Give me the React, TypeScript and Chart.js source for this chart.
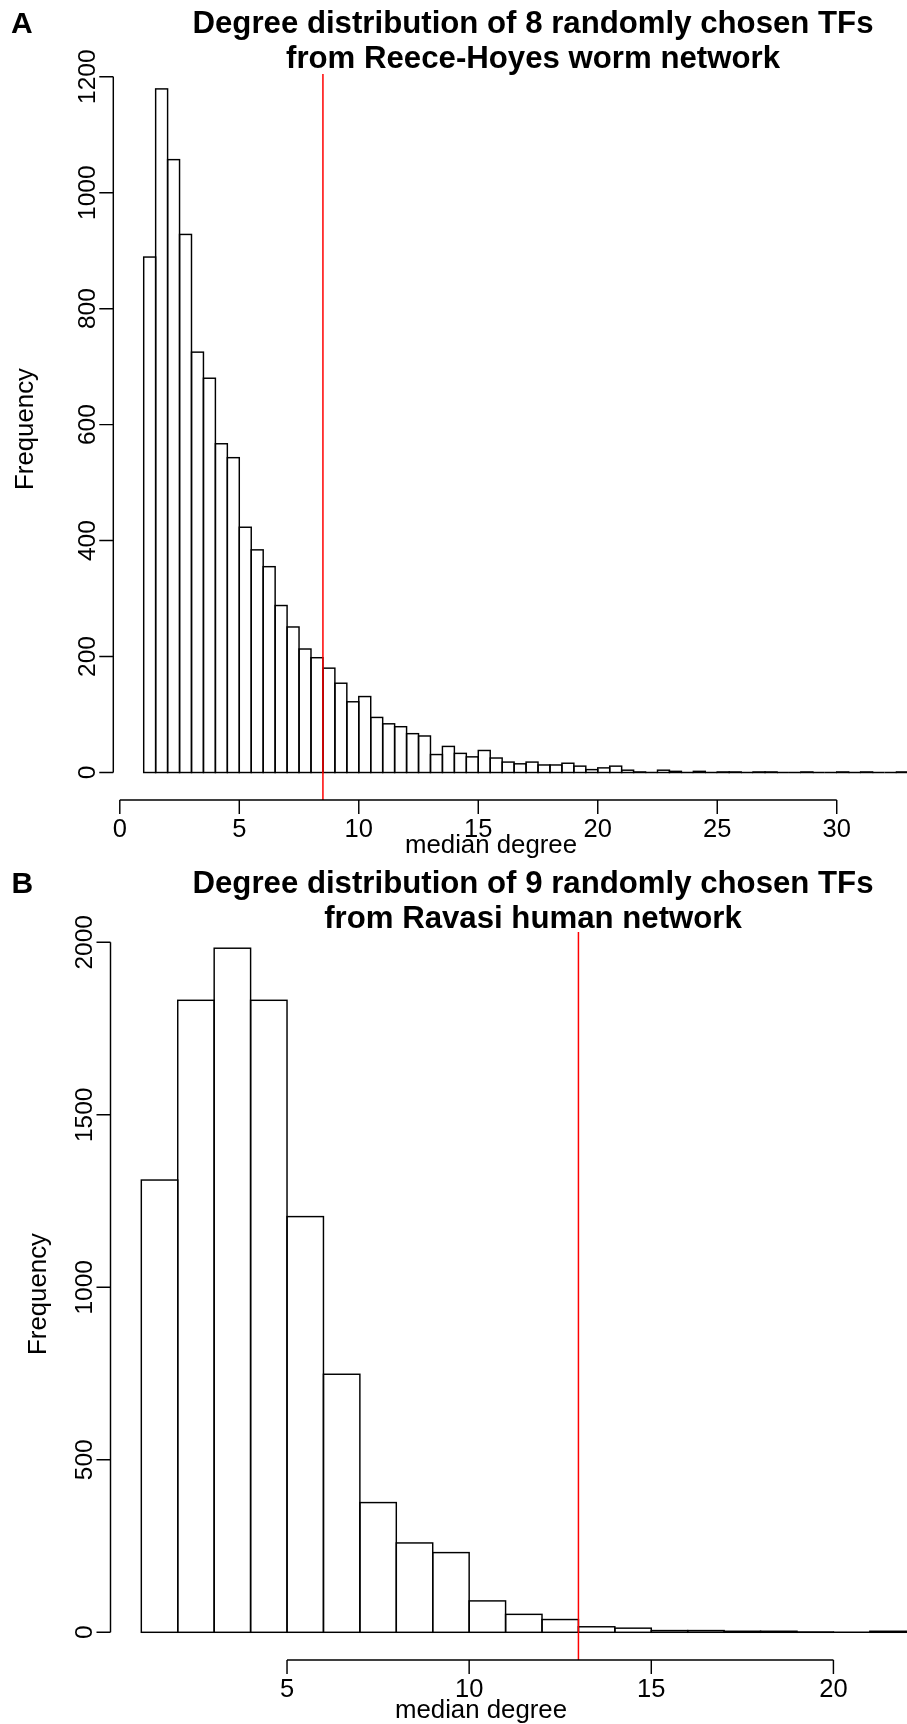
import React, { useEffect, useRef } from "react";
import { Chart, registerables } from "chart.js";

Chart.register(...registerables);

// ---------- Data: panel A (Reece-Hoyes worm network) ----------
const titleA = ["Degree distribution of 8 randomly chosen TFs", "from Reece-Hoyes worm network"];
const binLeftA = [
  1, 1.5, 2, 2.5, 3, 3.5, 4, 4.5, 5, 5.5, 6, 6.5, 7, 7.5, 8, 8.5,
  9, 9.5, 10, 10.5, 11, 11.5, 12, 12.5, 13, 13.5, 14, 14.5, 15, 15.5, 16, 16.5,
  17, 17.5, 18, 18.5, 19, 19.5, 20, 20.5, 21, 21.5, 22, 22.5, 23, 23.5, 24, 24.5,
  25, 25.5, 26, 26.5, 27, 27.5, 28, 28.5, 29, 29.5, 30, 30.5, 31, 31.5, 32, 32.5,
];
const countsA = [
  889, 1179, 1057, 928, 725, 680, 567, 543, 423, 384, 355, 288, 251, 213, 198, 180,
  154, 122, 131, 95, 84, 79, 67, 63, 31, 45, 33, 27, 38, 25, 18, 15,
  18, 13, 13, 16, 11, 5, 8, 11, 4, 1, 0, 4, 2, 0, 2, 0,
  1, 1, 0, 1, 1, 0, 0, 1, 0, 0, 1, 0, 1, 0, 0, 1,
];
const binWidthA = 0.5;
const medianA = 8.5;
const xTicksA = [0, 5, 10, 15, 20, 25, 30];
const yTicksA = [0, 200, 400, 600, 800, 1000, 1200];

// ---------- Data: panel B (Ravasi human network) ----------
const titleB = ["Degree distribution of 9 randomly chosen TFs", "from Ravasi human network"];
const binLeftB = [1, 2, 3, 4, 5, 6, 7, 8, 9, 10, 11, 12, 13, 14, 15, 16, 17, 18, 19, 20, 21];
const countsB = [1311, 1832, 1983, 1832, 1205, 748, 376, 259, 231, 91, 52, 37, 16, 12, 5, 5, 3, 3, 1, 0, 3];
const binWidthB = 1;
const medianB = 13;
const xTicksB = [5, 10, 15, 20];
const yTicksB = [0, 500, 1000, 1500, 2000];

const xLabel = "median degree";
const yLabel = "Frequency";

// ---------- Styling / layout ----------
const FONT = '"Liberation Sans", Arial, Helvetica, sans-serif';
const LINE_W = 1.45;
const TICK_LEN = 14;
const CANVAS_W = 907;
const CANVAS_H = 862;

type PanelSpec = {
  letter: string;
  title: string[];
  binLeft: number[];
  counts: number[];
  binWidth: number;
  median: number;
  xTicks: number[];
  yTicks: number[];
  xMin: number;
  xMax: number;
  yMin: number;
  yMax: number;
  padding: { left: number; right: number; top: number; bottom: number };
  letterX: number;
  titleX: number;
  titleBaselines: number[];
  yLabX: number;
  yLabY: number;
  xLabX: number;
  xLabBaseline: number;
};

const panelA: PanelSpec = {
  letter: "A",
  title: titleA,
  binLeft: binLeftA,
  counts: countsA,
  binWidth: binWidthA,
  median: medianA,
  xTicks: xTicksA,
  yTicks: yTicksA,
  xMin: -0.272,
  xMax: 32.94,
  yMin: -47.4,
  yMax: 1204.7,
  padding: { left: 113.3, right: 0, top: 74, bottom: 62 },
  letterX: 11,
  titleX: 533,
  titleBaselines: [33.3, 68.3],
  yLabX: 33.3,
  yLabY: 429,
  xLabX: 491,
  xLabBaseline: 853,
};

const panelB: PanelSpec = {
  letter: "B",
  title: titleB,
  binLeft: binLeftB,
  counts: countsB,
  binWidth: binWidthB,
  median: medianB,
  xTicks: xTicksB,
  yTicks: yTicksB,
  xMin: 0.154,
  xMax: 22.02,
  yMin: -80.3,
  yMax: 2030,
  padding: { left: 110.5, right: 0, top: 70, bottom: 64 },
  letterX: 11.5,
  titleX: 533,
  titleBaselines: [31.3, 66.3],
  yLabX: 46,
  yLabY: 432,
  xLabX: 481,
  xLabBaseline: 856,
};

function makeDecorPlugin(p: PanelSpec) {
  return {
    id: "rStyleDecor" + p.letter,
    afterDatasetsDraw(chart: any) {
      const ctx = chart.ctx as CanvasRenderingContext2D;
      const xs = chart.scales.x;
      const area = chart.chartArea;

      // histogram outlines (from the bar elements positioned by chart.js)
      ctx.save();
      ctx.strokeStyle = "#000";
      ctx.lineWidth = LINE_W;
      ctx.lineJoin = "miter";
      const meta = chart.getDatasetMeta(0);
      meta.data.forEach((el: any) => {
        const { x, y, base, width } = el.getProps(["x", "y", "base", "width"], true);
        ctx.strokeRect(x - width / 2, y, width, base - y);
      });
      ctx.restore();

      // red median line
      ctx.save();
      ctx.strokeStyle = "#FF0000";
      ctx.lineWidth = 1.5;
      const mx = xs.getPixelForValue(p.median);
      ctx.beginPath();
      ctx.moveTo(mx, area.top);
      ctx.lineTo(mx, area.bottom);
      ctx.stroke();
      ctx.restore();
    },
    afterDraw(chart: any) {
      const ctx = chart.ctx as CanvasRenderingContext2D;
      const xs = chart.scales.x;
      const ys = chart.scales.y;
      const area = chart.chartArea;
      ctx.save();
      ctx.strokeStyle = "#000";
      ctx.fillStyle = "#000";
      ctx.lineWidth = LINE_W;

      // y axis
      const ax = area.left;
      const yTop = ys.getPixelForValue(p.yTicks[p.yTicks.length - 1]);
      const yBot = ys.getPixelForValue(p.yTicks[0]);
      ctx.beginPath();
      ctx.moveTo(ax, yBot);
      ctx.lineTo(ax, yTop);
      p.yTicks.forEach((t) => {
        const py = ys.getPixelForValue(t);
        ctx.moveTo(ax, py);
        ctx.lineTo(ax - TICK_LEN, py);
      });
      ctx.stroke();
      ctx.font = `24.5px ${FONT}`;
      ctx.textAlign = "center";
      ctx.textBaseline = "alphabetic";
      p.yTicks.forEach((t) => {
        const py = ys.getPixelForValue(t);
        ctx.save();
        ctx.translate(ax - 18.3, py);
        ctx.rotate(-Math.PI / 2);
        ctx.fillText(String(t), 0, 0);
        ctx.restore();
      });

      // x axis
      const ay = area.bottom;
      const xL = xs.getPixelForValue(p.xTicks[0]);
      const xR = xs.getPixelForValue(p.xTicks[p.xTicks.length - 1]);
      ctx.beginPath();
      ctx.moveTo(xL, ay);
      ctx.lineTo(xR, ay);
      p.xTicks.forEach((t) => {
        const px = xs.getPixelForValue(t);
        ctx.moveTo(px, ay);
        ctx.lineTo(px, ay + TICK_LEN);
      });
      ctx.stroke();
      ctx.font = `25.5px ${FONT}`;
      p.xTicks.forEach((t) => {
        const px = xs.getPixelForValue(t);
        ctx.fillText(String(t), px, ay + 36.5);
      });

      // axis titles
      ctx.font = `25.8px ${FONT}`;
      ctx.fillText(xLabel, p.xLabX, p.xLabBaseline);
      ctx.save();
      ctx.translate(p.yLabX, p.yLabY);
      ctx.rotate(-Math.PI / 2);
      ctx.fillText(yLabel, 0, 0);
      ctx.restore();

      // main title
      ctx.font = `bold 31.2px ${FONT}`;
      p.title.forEach((line, i) => {
        ctx.fillText(line, p.titleX, p.titleBaselines[i]);
      });

      // panel letter
      ctx.textAlign = "left";
      ctx.font = `bold 30px ${FONT}`;
      ctx.fillText(p.letter, p.letterX, p.titleBaselines[0]);
      ctx.restore();
    },
  };
}

function HistPanel({ spec }: { spec: PanelSpec }) {
  const ref = useRef<HTMLCanvasElement | null>(null);
  useEffect(() => {
    if (!ref.current) return;
    const points = spec.binLeft.map((l, i) => ({ x: l + spec.binWidth / 2, y: spec.counts[i] }));
    const chart = new Chart(ref.current, {
      type: "bar",
      data: {
        datasets: [
          {
            data: points as any,
            backgroundColor: "#ffffff",
            borderWidth: 0,
            barPercentage: 1,
            categoryPercentage: 1,
          },
        ],
      },
      options: {
        animation: false,
        responsive: true,
        maintainAspectRatio: false,
        layout: { padding: spec.padding },
        plugins: {
          legend: { display: false },
          tooltip: { enabled: false },
          title: { display: false },
        },
        scales: {
          x: { type: "linear", min: spec.xMin, max: spec.xMax, offset: false, display: false },
          y: { type: "linear", min: spec.yMin, max: spec.yMax, display: false },
        },
      },
      plugins: [makeDecorPlugin(spec)],
    });
    return () => chart.destroy();
  }, [spec]);
  return (
    <div style={{ position: "relative", width: CANVAS_W, height: CANVAS_H }}>
      <canvas ref={ref} />
    </div>
  );
}

export default function App() {
  return (
    <div style={{ position: "absolute", left: 0, top: 0, width: CANVAS_W, background: "#fff" }}>
      <HistPanel spec={panelA} />
      <HistPanel spec={panelB} />
    </div>
  );
}
